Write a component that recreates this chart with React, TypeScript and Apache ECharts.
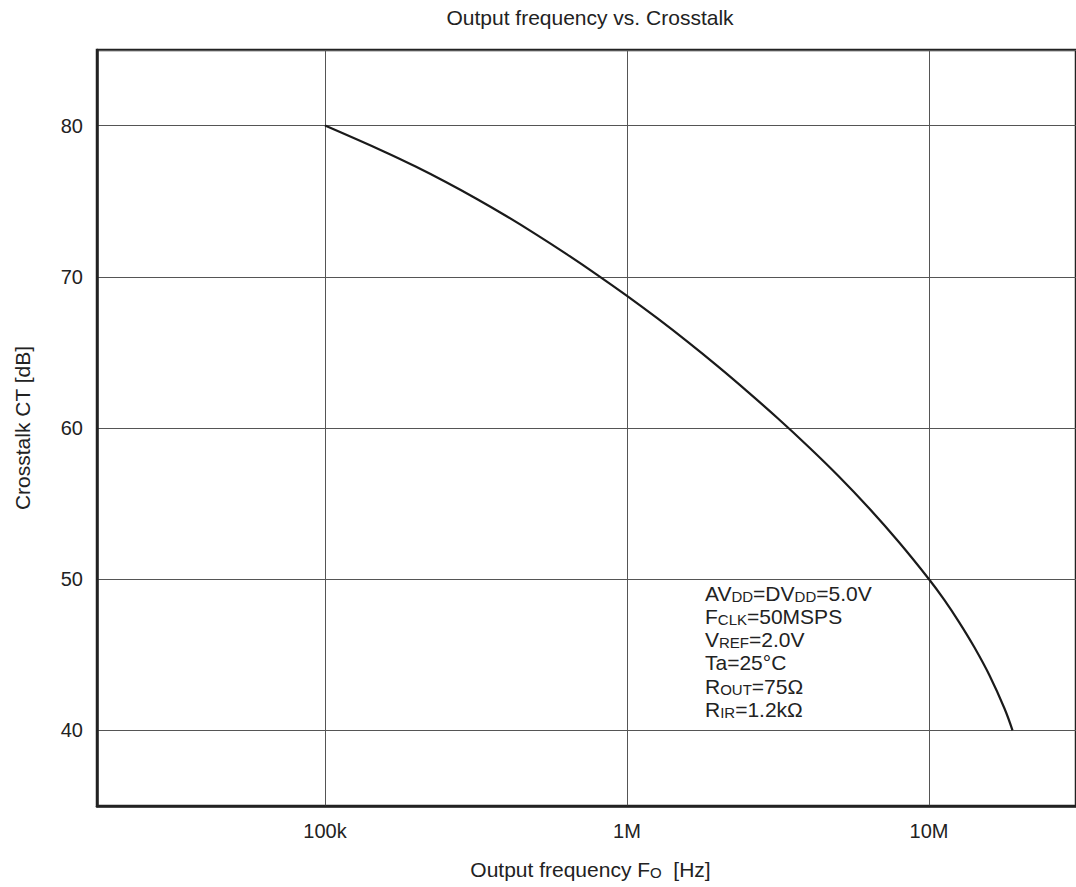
import React, { useEffect, useRef } from "react";
import * as echarts from "echarts";

const FONT = "'Liberation Sans', Arial, Helvetica, sans-serif";

const titleText = "Output frequency vs. Crosstalk";
const xAxisName = "Output frequency F{s|O}  [Hz]";
const yAxisName = "Crosstalk CT [dB]";

// Output frequency (Hz) and crosstalk (dB)
const frequencyHz = [
  1.0e5, 1.585e5, 1.995e5, 2.512e5, 3.162e5, 3.981e5, 5.012e5, 6.31e5, 7.943e5,
  1.0e6, 1.259e6, 1.585e6, 1.995e6, 2.512e6, 3.162e6, 3.981e6, 5.012e6, 6.31e6,
  7.943e6, 1.0e7, 1.122e7, 1.259e7, 1.413e7, 1.585e7, 1.778e7, 1.89e7,
];
const crosstalkDb = [
  80.0, 78.24, 77.29, 76.27, 75.18, 74.02, 72.79, 71.5, 70.15,
  68.74, 67.26, 65.71, 64.09, 62.39, 60.63, 58.78, 56.83, 54.73,
  52.46, 50.0, 48.65, 47.15, 45.5, 43.65, 41.45, 40.0,
];

const xTickLabels: Record<string, string> = { "5": "100k", "6": "1M", "7": "10M" };
const yTickValues = [40, 50, 60, 70, 80];

const conditionLines = [
  "AV{s|DD}=DV{s|DD}=5.0V",
  "F{s|CLK}=50MSPS",
  "V{s|REF}=2.0V",
  "Ta=25°C",
  "R{s|OUT}=75Ω",
  "R{s|IR}=1.2kΩ",
];

export default function App() {
  const ref = useRef<HTMLDivElement>(null);
  useEffect(() => {
    if (!ref.current) return;
    const chart = echarts.init(ref.current, undefined, { renderer: "svg" });
    const data = frequencyHz.map((f, i) => [f, crosstalkDb[i]]);
    const smallRich = {
      s: {
        fontSize: 15,
        lineHeight: 17,
        fontFamily: FONT,
        color: "#222",
        verticalAlign: "bottom",
      },
    };
    chart.setOption({
      animation: false,
      textStyle: { fontFamily: FONT },
      title: {
        text: titleText,
        left: 590,
        top: 7,
        textAlign: "center",
        padding: 0,
        textStyle: { fontSize: 21, fontWeight: "normal", color: "#222", fontFamily: FONT },
      },
      grid: {
        left: 97,
        top: 50,
        right: 0,
        bottom: 81,
        show: true,
        borderColor: "#222",
        borderWidth: 2.5,
        backgroundColor: "transparent",
      },
      xAxis: {
        type: "log",
        logBase: 10,
        min: Math.pow(10, 4.245),
        max: Math.pow(10, 7.4867),
        name: xAxisName,
        nameLocation: "middle",
        nameGap: 53,
        nameTextStyle: {
          fontSize: 21,
          color: "#222",
          fontFamily: FONT,
          padding: [0, 0, 0, 8],
          rich: smallRich,
        },
        axisLine: { show: true, lineStyle: { color: "#222", width: 2.5 } },
        axisTick: { show: false },
        splitLine: { show: true, lineStyle: { color: "#555", width: 1 } },
        axisLabel: {
          fontSize: 20,
          color: "#222",
          margin: 15,
          showMinLabel: false,
          showMaxLabel: false,
          formatter: (v: number) => {
            const l = Math.log10(v);
            const r = Math.round(l);
            if (Math.abs(l - r) > 1e-6) return "";
            return xTickLabels[String(r)] || "";
          },
        },
      },
      yAxis: {
        type: "value",
        min: 35,
        max: 85,
        splitNumber: 5,
        name: yAxisName,
        nameLocation: "middle",
        nameGap: 64,
        nameTextStyle: { fontSize: 21, color: "#222", fontFamily: FONT },
        axisLine: { show: true, lineStyle: { color: "#222", width: 2.5 } },
        axisTick: { show: false },
        splitLine: { show: true, lineStyle: { color: "#555", width: 1 } },
        axisLabel: {
          fontSize: 20,
          color: "#222",
          margin: 14,
          showMinLabel: false,
          showMaxLabel: false,
          formatter: (v: number) => (yTickValues.indexOf(v) >= 0 ? String(v) : ""),
        },
      },
      graphic: conditionLines.map((t, i) => ({
        type: "text",
        x: 705,
        y: 593 + i * 23.3,
        silent: true,
        style: {
          text: t,
          fontSize: 21,
          fontFamily: FONT,
          fill: "#222",
          align: "left",
          verticalAlign: "middle",
          rich: smallRich,
        },
      })),
      series: [
        {
          type: "line",
          data,
          showSymbol: false,
          symbol: "none",
          smooth: 0.4,
          lineStyle: { color: "#1a1a1a", width: 2.2 },
          clip: true,
        },
      ],
    });
    return () => chart.dispose();
  }, []);
  return (
    <div
      ref={ref}
      style={{ position: "absolute", left: 0, top: 0, width: 1076, height: 887 }}
    />
  );
}
